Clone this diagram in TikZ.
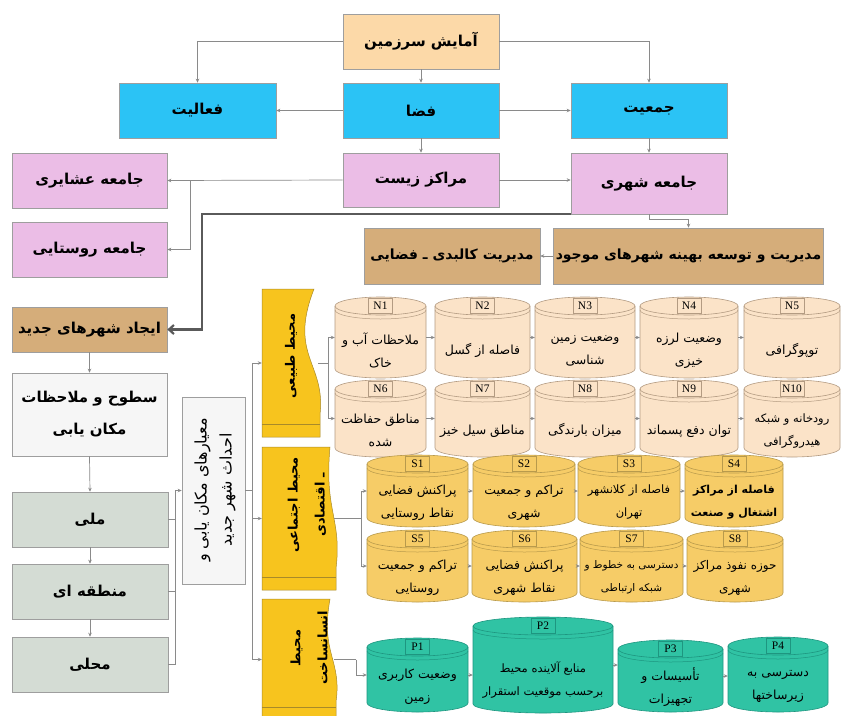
\documentclass[tikz,border=0pt]{standalone}
\usepackage{fontspec}
\setmainfont{Liberation Serif}
\newfontfamily\arabicfont[Script=Arabic]{DejaVu Sans}
\TeXXeTstate=1
\usetikzlibrary{arrows.meta,calc}
\newcommand{\fa}[1]{{\arabicfont\beginR #1\endR}}
\definecolor{cPeach}{HTML}{FCD9A8}
\definecolor{cBlue}{HTML}{2BC3F5}
\definecolor{cPink}{HTML}{EBBDE6}
\definecolor{cTan}{HTML}{D5AD7A}
\definecolor{cWhite}{HTML}{F6F6F6}
\definecolor{cGreen}{HTML}{D4DCD4}
\definecolor{cBan}{HTML}{F7C41E}
\definecolor{cBanD}{HTML}{A88A2A}
\definecolor{cN}{HTML}{FBE3C8}
\definecolor{cNd}{HTML}{B39B82}
\definecolor{cS}{HTML}{F6CC67}
\definecolor{cSd}{HTML}{B89A4C}
\definecolor{cP}{HTML}{30C3A4}
\definecolor{cPd}{HTML}{1E9680}
\definecolor{cLine}{HTML}{8A8A8A}
\definecolor{cBorder}{HTML}{9E9E9E}
\definecolor{cThick}{HTML}{5A5A5A}
\def\cylfs{12.5}
% name, x0, x1, ytop, ybottom, fill, draw, label, text
\newcommand{\cyl}[9]{%
 \pgfmathsetmacro{\cx}{(#2+#3)/2}%
 \pgfmathsetmacro{\rx}{(#3-#2)/2}%
 \pgfmathsetmacro{\cy}{(#4+#5)/2}%
 \pgfmathsetmacro{\hh}{#5-#4}%
 \pgfmathsetmacro{\ty}{#4+0.66*(#5-#4)}%
 \filldraw[fill=#6,draw=#7,line width=0.6pt] (#2,#4+9) -- (#2,#5-9) arc[start angle=180,end angle=360,x radius=\rx pt,y radius=9pt] -- (#3,#4+9) arc[start angle=0,end angle=180,x radius=\rx pt,y radius=9pt] -- cycle;
 \draw[draw=#7,line width=0.6pt] (#2,#4+9) arc[start angle=180,end angle=360,x radius=\rx pt,y radius=9pt];
 \draw[draw=#7,line width=0.5pt] (#2,#4+13) arc[start angle=180,end angle=360,x radius=\rx pt,y radius=9pt];
 \node[inner sep=0pt,minimum width=\rx*2pt,minimum height=\hh*1pt] (#1) at (\cx,\cy) {};
 \node[draw=#7,fill=#6,line width=0.5pt,inner sep=0pt,minimum width=24pt,minimum height=15pt,font=\fontsize{11.5}{11.5}\selectfont] at (\cx,#4+9) {#8};
 \node[align=center,font=\arabicfont\fontsize{\cylfs}{23}\selectfont] at (\cx,\ty) {#9};
}
% name, y0, y1, width, text position, text, depth of wave
\newcommand{\banner}[7]{%
 \pgfmathsetmacro{\bh}{#3-#2}%
 \filldraw[fill=cBan,draw=cBanD,line width=0.5pt] (262,#2) -- (262+#4-4,#2) .. controls (262+#4-#7,#2+0.45*\bh) and (262+#4+8,#2+0.5*\bh) .. (262+#4+2,#2+0.85*\bh) -- (262+#4+2,#3) -- (262,#3) -- cycle;
 \draw[cBanD,line width=0.5pt] (262,#3-13) -- (262+#4+2,#3-13);
 \node[inner sep=0pt,minimum width=#4*1pt,minimum height=\bh*1pt] (#1) at (262+#4/2,#2+\bh/2) {};
 \node[rotate=90,align=center,font=\arabicfont\bfseries\fontsize{13}{27}\selectfont] at (#5) {#6};
}
\begin{document}
\begin{tikzpicture}[x=1pt,y=-1pt,
  box/.style={draw=cBorder,line width=0.6pt,inner sep=2pt,align=center,font=\arabicfont\bfseries\fontsize{15}{30}\selectfont},
  conn/.style={draw=cLine,line width=0.7pt},
  arr/.style={conn,-{Stealth[length=4pt,width=3.5pt]}},
  thk/.style={draw=cThick,line width=2.2pt,-{Straight Barb[length=5pt,width=9pt]}}]
\useasboundingbox (0,0) rectangle (842,715);
\fill[white] (0,0) rectangle (842,715);

% top boxes
\node[box,fill=cPeach,minimum width=156pt,minimum height=55pt] (amayesh) at (421,41.5) {\fa{آمایش سرزمین}};
\node[box,fill=cBlue,minimum width=157pt,minimum height=55pt] (faaliat) at (197.5,110.5) {\fa{فعالیت}};
\node[box,fill=cBlue,minimum width=156pt,minimum height=55pt] (faza) at (421,110.5) {\fa{فضا}};
\node[box,fill=cBlue,minimum width=156pt,minimum height=55pt] (jamiat) at (649,110.5) {\fa{جمعیت}};
\node[box,fill=cPink,minimum width=156pt,minimum height=54pt] (marakez) at (421,180) {\fa{مراکز زیست}};
\node[box,fill=cPink,minimum width=156pt,minimum height=61pt] (jsh) at (649,183.5) {\fa{جامعه شهری}};
\node[box,fill=cPink,minimum width=155pt,minimum height=55pt] (ashayer) at (89.5,180.5) {\fa{جامعه عشایری}};
\node[box,fill=cPink,minimum width=155pt,minimum height=55pt] (roosta) at (89.5,249.5) {\fa{جامعه روستایی}};
\node[box,fill=cTan,minimum width=263pt,minimum height=56pt,font=\arabicfont\bfseries\fontsize{14}{20}\selectfont] (modiriat) at (688.5,256) {\fa{مدیریت و توسعه بهینه شهرهای موجود}};
\node[box,fill=cTan,minimum width=176pt,minimum height=56pt,font=\arabicfont\bfseries\fontsize{14}{20}\selectfont] (kalbadi) at (452,256) {\fa{مدیریت کالبدی ـ فضایی}};
\node[box,fill=cTan,minimum width=155pt,minimum height=45pt] (ijad) at (89.5,329.5) {\fa{ایجاد شهرهای جدید}};
\node[box,fill=cWhite,minimum width=155pt,minimum height=83pt,font=\arabicfont\bfseries\fontsize{15}{32}\selectfont] (sotooh) at (89.5,414.5) {\fa{سطوح و ملاحظات}\\\fa{مکان یابی}};
\node[box,fill=cGreen,minimum width=156pt,minimum height=55pt] (melli) at (90,519.5) {\fa{ملی}};
\node[box,fill=cGreen,minimum width=156pt,minimum height=55pt] (mantaghe) at (90,591.5) {\fa{منطقه ای}};
\node[box,fill=cGreen,minimum width=156pt,minimum height=55pt] (mahalli) at (90,664.5) {\fa{محلی}};
\node[draw=cBorder,fill=cWhite,line width=0.6pt,minimum width=63pt,minimum height=187pt,inner sep=0pt] (meyar) at (213.5,490.5) {};
\node[rotate=90,align=center,font=\arabicfont\fontsize{16}{25}\selectfont] at (215,490) {\fa{معیارهای مکان یابی و}\\\fa{احداث شهر جدید}};

% banners
\banner{tab}{289}{437}{56}{291,356}{\fa{محیط طبیعی}}{30}
\banner{ej}{447}{590}{72}{307,505}{\fa{محیط اجتماعی}\\\fa{ـ اقتصادی}}{10}
\banner{ens}{599}{720}{72}{309,648}{\fa{محیط}\\\fa{انسانساخت}}{14}

% N cylinders
\cyl{n1}{335}{426}{297}{378}{cN}{cNd}{N1}{\fa{ملاحظات آب و}\\\fa{خاک}}
\cyl{n2}{435}{530}{297}{378}{cN}{cNd}{N2}{\fa{فاصله از گسل}}
\cyl{n3}{535}{635}{297}{378}{cN}{cNd}{N3}{\fa{وضعیت زمین}\\\fa{شناسی}}
\cyl{n4}{640}{738}{297}{378}{cN}{cNd}{N4}{\fa{وضعیت لرزه}\\\fa{خیزی}}
\cyl{n5}{744}{840}{297}{378}{cN}{cNd}{N5}{\fa{توپوگرافی}}
\cyl{n6}{335}{426}{380}{457}{cN}{cNd}{N6}{\fa{مناطق حفاظت}\\\fa{شده}}
\cyl{n7}{435}{530}{380}{457}{cN}{cNd}{N7}{\fa{مناطق سیل خیز}}
\cyl{n8}{535}{635}{380}{457}{cN}{cNd}{N8}{\fa{میزان بارندگی}}
\cyl{n9}{640}{738}{380}{457}{cN}{cNd}{N9}{\fa{توان دفع پسماند}}
\def\cylfs{11.5}
\cyl{n10}{744}{840}{380}{457}{cN}{cNd}{N10}{\fa{رودخانه و شبکه}\\\fa{هیدروگرافی}}
\def\cylfs{12.5}

% S cylinders
\cyl{s1}{367}{468}{455}{527}{cS}{cSd}{S1}{\fa{پراکنش فضایی}\\\fa{نقاط روستایی}}
\cyl{s2}{473}{575}{455}{527}{cS}{cSd}{S2}{\fa{تراکم و جمعیت}\\\fa{شهری}}
\def\cylfs{11.5}
\cyl{s3}{578}{680}{455}{527}{cS}{cSd}{S3}{\fa{فاصله از کلانشهر}\\\fa{تهران}}
\def\cylfs{11}
\cyl{s4}{685}{783}{455}{527}{cS}{cSd}{S4}{{\bfseries\fa{فاصله از مراکز}}\\{\bfseries\fa{اشتغال و صنعت}}}
\def\cylfs{12.5}
\cyl{s5}{367}{468}{530}{602}{cS}{cSd}{S5}{\fa{تراکم و جمعیت}\\\fa{روستایی}}
\cyl{s6}{472}{577}{530}{602}{cS}{cSd}{S6}{\fa{پراکنش فضایی}\\\fa{نقاط شهری}}
\def\cylfs{10.5}
\cyl{s7}{580}{683}{530}{602}{cS}{cSd}{S7}{\fa{دسترسی به خطوط و}\\\fa{شبکه ارتباطی}}
\def\cylfs{12}
\cyl{s8}{687}{783}{530}{602}{cS}{cSd}{S8}{\fa{حوزه نفوذ مراکز}\\\fa{شهری}}
\def\cylfs{12.5}

% P cylinders
\cyl{p1}{367}{468}{638}{712}{cP}{cPd}{P1}{\fa{وضعیت کاربری}\\\fa{زمین}}
\def\cylfs{11.5}
\cyl{p2}{473}{613}{617}{713}{cP}{cPd}{P2}{\fa{منابع آلاینده محیط}\\\fa{برحسب موقعیت استقرار}}
\def\cylfs{12.5}
\cyl{p3}{618}{723}{640}{712}{cP}{cPd}{P3}{\fa{تأسیسات و}\\\fa{تجهیزات}}
\cyl{p4}{728}{828}{637}{712}{cP}{cPd}{P4}{\fa{دسترسی به}\\\fa{زیرساختها}}

% connectors top
\draw[arr] (amayesh.west) -| (faaliat.north);
\draw[arr] (amayesh.east) -| (jamiat.north);
\draw[arr] (amayesh.south) -- (faza.north);
\draw[arr] (faza.west) -- (faaliat.east);
\draw[arr] (faza.east) -- (jamiat.west);
\draw[arr] (faza.south) -- (marakez.north);
\draw[arr] (jamiat.south) -- (jsh.north);
\draw[arr] (marakez.west) -- (ashayer.east);
\coordinate (rb) at (190,180);
\draw[arr] (rb) |- (roosta.east);
\draw[arr] (marakez.east) -- (marakez.east -| jsh.west);
\draw[arr] (jsh.south) -- ++(0,5) -| (modiriat.north);
\draw[arr] (modiriat.west) -- (kalbadi.east);
\coordinate (tk) at (202,270);
\draw[thk] (jsh.south west) -| (tk) |- (ijad.east);

% left column
\draw[arr] (ijad.south) -- (sotooh.north);
\draw[arr] (sotooh.south) -- (melli.north);
\draw[arr] (melli.south) -- (mantaghe.north);
\draw[arr] (mantaghe.south) -- (mahalli.north);
\coordinate (lv) at (175,490.5);
\draw[arr] (lv) -- (meyar.west);
\draw[conn] (lv) |- (mahalli.east);
\draw[conn] (melli.east) -- (melli.east -| lv);
\draw[conn] (mantaghe.east) -- (mantaghe.east -| lv);
\coordinate (vm) at (252,490.5);
\draw[conn] (meyar.east) -- (vm);
\draw[arr] (vm) |- (tab.west);
\draw[arr] (vm) |- (ej.west);
\draw[arr] (vm) |- (ens.west);

% banner branches
\coordinate (nbr) at (328,363);
\draw[conn] (tab.east) -- (nbr);
\draw[arr] (nbr) |- (n1.west);
\draw[arr] (nbr) |- (n6.west);
\coordinate (sbr) at (361,518.5);
\draw[conn] (ej.east) -- (sbr);
\draw[arr] (sbr) |- (s1.west);
\draw[arr] (sbr) |- (s5.west);
\coordinate (pbr) at (356,659.5);
\draw[conn] (ens.east) -- (pbr);
\draw[arr] (pbr) |- (p1.west);

% chains
\draw[arr] (n1.east) -- (n2.west);
\draw[arr] (n2.east) -- (n3.west);
\draw[arr] (n3.east) -- (n4.west);
\draw[arr] (n4.east) -- (n5.west);
\draw[arr] (n6.east) -- (n7.west);
\draw[arr] (n7.east) -- (n8.west);
\draw[arr] (n8.east) -- (n9.west);
\draw[arr] (n9.east) -- (n10.west);
\draw[arr] (s1.east) -- (s2.west);
\draw[arr] (s2.east) -- (s3.west);
\draw[arr] (s3.east) -- (s4.west);
\draw[arr] (s5.east) -- (s6.west);
\draw[arr] (s6.east) -- (s7.west);
\draw[arr] (s7.east) -- (s8.west);
\draw[arr] (p1.east) -- (p1.east -| p2.west);
\draw[arr] (p2.east) -- (p2.east -| p3.west);
\draw[arr] (p3.east) -- (p3.east -| p4.west);
\end{tikzpicture}
\end{document}
